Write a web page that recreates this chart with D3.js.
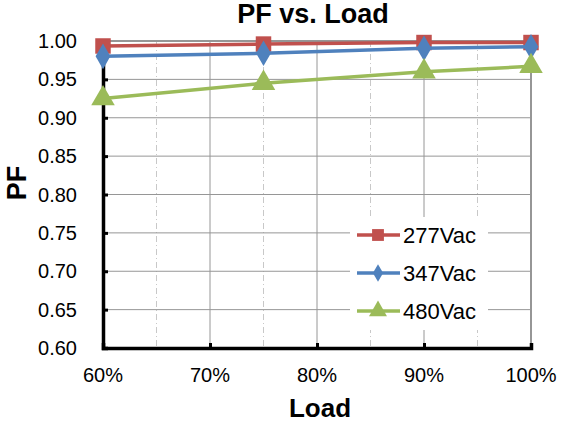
<!DOCTYPE html>
<html>
<head>
<meta charset="utf-8">
<script src="https://cdn.jsdelivr.net/npm/d3@7"></script>
<style>
  body { margin: 0; background: #fff; }
  text { font-family: "Liberation Sans", Arial, sans-serif; fill: #000; }
</style>
</head>
<body>
<svg id="chart"></svg>
<script>
// chart data
const loads = [60, 75, 90, 100];
const pf277 = [0.9935, 0.996, 0.998, 0.998];
const pf347 = [0.980, 0.984, 0.9905, 0.9925];
const pf480 = [0.925, 0.945, 0.960, 0.967];
const seriesNames = ["277Vac", "347Vac", "480Vac"];
const xTicks = [60, 70, 80, 90, 100];
const yTicks = [0.60, 0.65, 0.70, 0.75, 0.80, 0.85, 0.90, 0.95, 1.00];

const width = 561, height = 424;
const margin = { top: 41, right: 30, bottom: 76, left: 103 };
const colors = ["#C0504D", "#4F81BD", "#9BBB59"];
const shapes = [d3.symbolSquare, d3.symbolDiamond, d3.symbolTriangle];

const svg = d3.select("#chart").attr("width", width).attr("height", height);

const x = d3.scaleLinear().domain([60, 100]).range([margin.left, width - margin.right]);
const y = d3.scaleLinear().domain([0.60, 1.00]).range([height - margin.bottom, margin.top]);

// vertical minor gridlines (dashed)
svg.append("g").selectAll("line")
    .data([65, 75, 85, 95])
    .join("line")
    .attr("x1", d => x(d)).attr("x2", d => x(d))
    .attr("y1", y(1.0)).attr("y2", y(0.6))
    .attr("stroke", "#c8c8c8").attr("stroke-width", 1)
    .attr("stroke-dasharray", "6,3,1,3");

// vertical major gridlines
svg.append("g").selectAll("line")
    .data(xTicks.slice(1))
    .join("line")
    .attr("x1", d => x(d)).attr("x2", d => x(d))
    .attr("y1", y(1.0)).attr("y2", y(0.6))
    .attr("stroke", "#969696").attr("stroke-width", d => d === 100 ? 2 : 1);

// horizontal gridlines
svg.append("g").selectAll("line")
    .data(yTicks.slice(1))
    .join("line")
    .attr("x1", x(60)).attr("x2", x(100))
    .attr("y1", d => y(d)).attr("y2", d => y(d))
    .attr("stroke", "#969696").attr("stroke-width", d => d === 1 ? 2 : 1);

// axes
const yAxis = d3.axisRight(y).tickValues(yTicks).tickSize(5).tickFormat("");
svg.append("g")
    .attr("transform", `translate(${x(60)},0)`)
    .call(yAxis)
    .call(g => g.selectAll("line").attr("stroke", "#000").attr("stroke-width", 3))
    .call(g => g.select(".domain").attr("stroke", "#000").attr("stroke-width", 3.5));

const xAxis = d3.axisTop(x).tickValues(xTicks).tickSize(5).tickFormat("");
svg.append("g")
    .attr("transform", `translate(0,${y(0.6)})`)
    .call(xAxis)
    .call(g => g.selectAll("line").attr("stroke", "#000").attr("stroke-width", 3))
    .call(g => g.select(".domain").attr("stroke", "#000").attr("stroke-width", 3.5));

// tick labels
svg.append("g").selectAll("text")
    .data(yTicks)
    .join("text")
    .attr("x", 77).attr("y", d => y(d) + 7)
    .attr("text-anchor", "end")
    .style("font-size", "20px")
    .text(d => d.toFixed(2));

svg.append("g").selectAll("text")
    .data(xTicks)
    .join("text")
    .attr("x", d => x(d)).attr("y", 382)
    .attr("text-anchor", "middle")
    .style("font-size", "20px")
    .text(d => d + "%");

// titles
svg.append("text")
    .attr("x", 313).attr("y", 23)
    .attr("text-anchor", "middle")
    .style("font-size", "27px").style("font-weight", "bold")
    .text("PF vs. Load");

svg.append("text")
    .attr("x", 320).attr("y", 417)
    .attr("text-anchor", "middle")
    .style("font-size", "26px").style("font-weight", "bold")
    .text("Load");

svg.append("text")
    .attr("transform", "translate(26,183) rotate(-90)")
    .attr("text-anchor", "middle")
    .style("font-size", "27px").style("font-weight", "bold")
    .text("PF");

// series
const series = [pf277, pf347, pf480].map((vals, i) => ({
    name: seriesNames[i],
    values: loads.map((l, j) => ({ load: l, pf: vals[j] }))
}));

const line = d3.line().x(d => x(d.load)).y(d => y(d.pf));
const markerSize = [240, 190, 240];

series.forEach((s, i) => {
    const g = svg.append("g");
    g.append("path")
        .datum(s.values)
        .attr("fill", "none")
        .attr("stroke", colors[i])
        .attr("stroke-width", 3.5)
        .attr("d", line);
    g.selectAll("path.pt")
        .data(s.values)
        .join("path")
        .attr("class", "pt")
        .attr("transform", d => `translate(${x(d.load)},${y(d.pf)})`)
        .attr("d", d3.symbol().type(shapes[i]).size(markerSize[i]))
        .attr("fill", colors[i]);
});

// legend
const legend = svg.append("g");
legend.append("rect")
    .attr("x", 350).attr("y", 217).attr("width", 138).attr("height", 113)
    .attr("fill", "#fff");
const legendSize = [140, 90, 140];
seriesNames.forEach((name, i) => {
    const ly = 235 + i * 38;
    legend.append("line")
        .attr("x1", 357).attr("x2", 400).attr("y1", ly).attr("y2", ly)
        .attr("stroke", colors[i]).attr("stroke-width", 3.5);
    legend.append("path")
        .attr("transform", `translate(378,${ly})`)
        .attr("d", d3.symbol().type(shapes[i]).size(legendSize[i]))
        .attr("fill", colors[i]);
    legend.append("text")
        .attr("x", 403).attr("y", ly + 8)
        .style("font-size", "22px")
        .text(name);
});
</script>
</body>
</html>
